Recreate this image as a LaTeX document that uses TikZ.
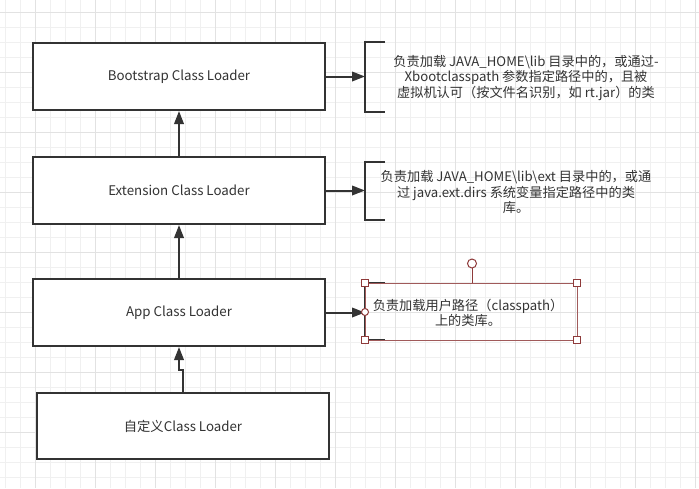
\documentclass[tikz,border=0pt]{standalone}
\usepackage{fontspec}
\setmainfont{Noto Sans CJK SC}
\usetikzlibrary{arrows.meta}
\definecolor{ink}{HTML}{333333}
\definecolor{gridminor}{HTML}{F0F0F0}
\definecolor{gridmajor}{HTML}{E2E2E2}
\definecolor{selc}{HTML}{A05A5A}
\definecolor{handlec}{HTML}{8E3A3A}
\newcommand\descfont{\fontsize{13.2}{15.6}\selectfont\lineskiplimit-100pt\relax}
\begin{document}
\begin{tikzpicture}[x=1pt,y=-1pt,
  minorline/.style={draw=gridminor,line width=1pt},
  majorline/.style={draw=gridmajor,line width=1pt},
  loaderbox/.style={draw=ink,line width=2pt,fill=white,text=ink,minimum width=292pt,minimum height=67pt,inner sep=0pt,font=\fontsize{13.3}{15}\selectfont},
  bracketline/.style={draw=ink,line width=2pt},
  arr/.style={draw=ink,line width=2pt,-{Triangle[length=13pt,width=9.5pt]}},
  desc/.style={text=ink,align=center,inner sep=0pt,font=\descfont},
  handlebox/.style={draw=handlec,fill=white,line width=1pt},
]
\useasboundingbox (0,0) rectangle (699,488);
\fill[white] (0,0) rectangle (699,488);
% grid
\foreach \x in {5.5,20.5,...,698} \draw[minorline] (\x,0) -- (\x,488);
\foreach \y in {12.5,27.5,...,487} \draw[minorline] (0,\y) -- (699,\y);
\foreach \x in {35,95,...,698} \draw[majorline] (\x,0) -- (\x,488);
\foreach \y in {12.5,72.5,...,487} \draw[majorline] (0,\y) -- (699,\y);

% loader boxes
\node[loaderbox] (boot) at (179,76.5) {Bootstrap Class Loader};
\node[loaderbox] (ext) at (179,190.5) {Extension Class Loader};
\node[loaderbox] (app) at (179,312.5) {App Class Loader};
\node[loaderbox,minimum height=66pt] (cust) at (183,426) {自定义Class Loader};

% brackets
\draw[bracketline] (385,42) -- (365,42) -- (365,111.5) -- (385,111.5);
\draw[bracketline] (385,161.5) -- (365,161.5) -- (365,220) -- (385,220);
\draw[bracketline] (385,283) -- (365,283) -- (365,340) -- (385,340);
\coordinate (br1) at (365,76.5);
\coordinate (br2) at (365,190.5);
\coordinate (br3) at (365,312.5);

% descriptions
\node[desc] (t1) at (526,78) {负责加载 JAVA\_HOME\textbackslash lib 目录中的，或通过-\\Xbootclasspath 参数指定路径中的，且被\\虚拟机认可（按文件名识别，如 rt.jar）的类};
\node[desc] (t2) at (516,192) {负责加载 JAVA\_HOME\textbackslash lib\textbackslash ext 目录中的，或通\\过 java.ext.dirs 系统变量指定路径中的类\\库。};
\node[desc] (t3) at (468,313) {负责加载用户路径（classpath）\\上的类库。};

% connectors
\draw[arr] (boot.east) -- (br1);
\draw[arr] (ext.east) -- (br2);
\draw[arr] (app.east) -- (br3);
\draw[arr] (ext.north) -- (boot.south);
\draw[arr] (app.north) -- (ext.south);
\coordinate (elb) at (179,370);
\draw[arr] (cust.north) |- (elb) -- (app.south);

% selection overlay
\draw[selc,line width=0.8pt] (365,283) rectangle (577,340);
\draw[handlec,line width=1pt] (472,268) -- (472,283);
\draw[handlebox] (472,263.5) circle (4.5pt);
\foreach \p in {(365,283),(577,283),(365,340),(577,340)}
  \draw[handlebox] \p ++(-3.5,-3.5) rectangle ++(7,7);
\draw[handlebox] (365,312) circle (3.5pt);
\end{tikzpicture}
\end{document}
